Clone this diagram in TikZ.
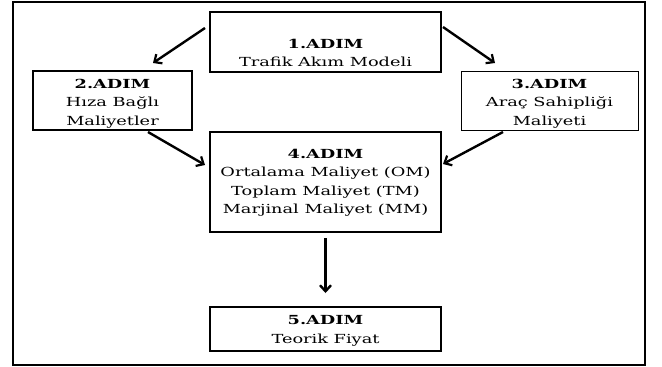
\documentclass[tikz,border=0pt]{standalone}
\usepackage{fontspec}
\setmainfont[FakeStretch=1.42]{DejaVu Serif}
\usetikzlibrary{arrows.meta}
\tikzset{
  box/.style={draw=black, line width=1.6pt, fill=white, inner sep=0pt},
  thinbox/.style={draw=black, line width=0.9pt, fill=white, inner sep=0pt},
  txt/.style={align=center, inner sep=0pt, font=\fontsize{12.5pt}{18.5pt}\selectfont},
  arr/.style={line width=2.4pt, -{Straight Barb[length=6pt,width=11pt,line width=2.2pt]}},
  bigarr/.style={line width=3.4pt, -{Straight Barb[length=6pt,width=11pt,line width=2.4pt]}}
}
\begin{document}
\begin{tikzpicture}[x=1pt,y=-1pt]
\useasboundingbox (0,0) rectangle (662,367);
\draw[line width=2pt] (13,1.5) rectangle (645,365);
% boxes
\node[box, minimum width=231pt, minimum height=60pt] (n1) at (325.5,42) {};
\node[txt] (t1) at (325.5,53) {\textbf{1.ADIM}\\Trafik Akım Modeli};
\node[box, minimum width=159pt, minimum height=59pt] (n2) at (112.5,100.5) {};
\node[txt] (t2) at (112.5,103.5) {\textbf{2.ADIM}\\Hıza Bağlı\\Maliyetler};
\node[thinbox, minimum width=177pt, minimum height=59pt] (n3) at (549.5,100.5) {};
\node[txt] (t3) at (549.5,103.5) {\textbf{3.ADIM}\\Araç Sahipliği\\Maliyeti};
\node[box, minimum width=231pt, minimum height=100pt] (n4) at (325.5,182) {};
\node[txt] (t4) at (325.5,182.5) {\textbf{4.ADIM}\\Ortalama Maliyet (OM)\\Toplam Maliyet (TM)\\Marjinal Maliyet (MM)};
\node[box, minimum width=231pt, minimum height=44pt] (n5) at (325.5,329) {};
\node[txt] (t5) at (325.5,331) {\textbf{5.ADIM}\\Teorik Fiyat};
% arrows
\coordinate (a1s) at (205,28); \coordinate (a1e) at (153,63);
\coordinate (a2s) at (443,27); \coordinate (a2e) at (495,63);
\coordinate (a3s) at (148,132); \coordinate (a3e) at (205,165);
\coordinate (a4s) at (503,132); \coordinate (a4e) at (443,164);
\coordinate (a5s) at (325.5,238); \coordinate (a5e) at (325.5,293);
\draw[arr] (a1s) -- (a1e);
\draw[arr] (a2s) -- (a2e);
\draw[arr] (a3s) -- (a3e);
\draw[arr] (a4s) -- (a4e);
\draw[bigarr] (a5s) -- (a5e);
\end{tikzpicture}
\end{document}
